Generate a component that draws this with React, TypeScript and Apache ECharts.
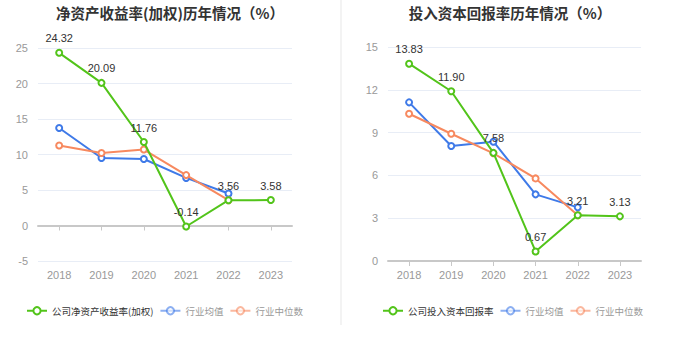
import React, { useEffect, useRef } from "react";
import * as echarts from "echarts";

const years = ["2018", "2019", "2020", "2021", "2022", "2023"];

const roeTitle = "净资产收益率(加权)历年情况（%）";
const roeCompanyName = "公司净资产收益率(加权)";
const roeCompany = [24.32, 20.09, 11.76, -0.14, 3.56, 3.58];
const roeAvg = [13.74, 9.5, 9.37, 6.7, 4.5, null];
const roeMedian = [11.26, 10.2, 10.7, 7.1, 3.56, null];

const roicTitle = "投入资本回报率历年情况（%）";
const roicCompanyName = "公司投入资本回报率";
const roicCompany = [13.83, 11.9, 7.58, 0.67, 3.21, 3.13];
const roicAvg = [11.12, 8.06, 8.36, 4.67, 3.76, null];
const roicMedian = [10.32, 8.92, 7.55, 5.79, 3.21, null];

const avgName = "行业均值";
const medianName = "行业中位数";

const GREEN = "#52c41a";
const BLUE = "#3f7ae8";
const ORANGE = "#f7895f";

function buildOption(p: {
  title: string;
  companyName: string;
  company: (number | null)[];
  avg: (number | null)[];
  median: (number | null)[];
  min: number;
  max: number;
  interval: number;
  grid: any;
  legendLeft: any;
}) {
  const mk = (name: string, data: any[], color: string, z: number, label: boolean) => ({
    type: "line",
    name,
    data,
    xAxisIndex: 0,
    symbol: "emptyCircle",
    symbolSize: 6,
    z,
    lineStyle: { color, width: 2 },
    itemStyle: { color, borderWidth: 1.5 },
    label: label
      ? { show: true, position: "top", color: "#333", fontSize: 11, formatter: (v: any) => Number(v.value).toFixed(2) }
      : { show: false },
  });
  return {
    animation: false,
    title: {
      text: p.title,
      left: "center",
      top: 0,
      textStyle: { fontSize: 14.5, fontWeight: "bold", color: "#333", fontFamily: "Noto Sans CJK SC" },
    },
    legend: {
      top: 301,
      left: p.legendLeft,
      itemWidth: 20,
      itemHeight: 9,
      itemGap: 6,
      textStyle: { fontSize: 9.5, color: "#333", fontFamily: "Noto Sans CJK SC" },
      data: [
        { name: p.companyName },
        { name: avgName, textStyle: { color: "#999" }, itemStyle: { opacity: 0.6 }, lineStyle: { opacity: 0.6 } },
        { name: medianName, textStyle: { color: "#999" }, itemStyle: { opacity: 0.6 }, lineStyle: { opacity: 0.6 } },
      ],
    },
    grid: p.grid,
    xAxis: [
      {
        type: "category",
        data: years,
        boundaryGap: true,
        axisLine: { onZero: true, lineStyle: { color: "#c8c8c8", width: 2 } },
        axisTick: { show: true, alignWithLabel: true, lineStyle: { color: "#c8c8c8" } },
        axisLabel: { show: false },
      },
      {
        type: "category",
        data: years,
        position: "bottom",
        boundaryGap: true,
        axisLine: { show: false, onZero: false },
        axisTick: { show: false },
        axisLabel: { color: "#999", fontSize: 11, margin: 8 },
      },
    ],
    yAxis: {
      type: "value",
      min: p.min,
      max: p.max,
      interval: p.interval,
      axisLine: { show: false },
      axisTick: { show: false },
      axisLabel: { color: "#999", fontSize: 11, margin: 10 },
      splitLine: { lineStyle: { color: "#e8edf6" } },
    },
    series: [
      mk(p.companyName, p.company, GREEN, 5, true),
      mk(avgName, p.avg, BLUE, 3, false),
      mk(medianName, p.median, ORANGE, 4, false),
    ],
  };
}

function Chart({ option, style }: { option: any; style: React.CSSProperties }) {
  const ref = useRef<HTMLDivElement>(null);
  useEffect(() => {
    if (!ref.current) return;
    const chart = echarts.init(ref.current, undefined, { renderer: "svg" });
    chart.setOption(option);
    return () => chart.dispose();
  }, [option]);
  return <div ref={ref} style={style} />;
}

const leftOption = buildOption({
  title: roeTitle,
  companyName: roeCompanyName,
  company: roeCompany,
  avg: roeAvg,
  median: roeMedian,
  min: -5,
  max: 25,
  interval: 5,
  grid: { left: 38, right: 48, top: 48, bottom: 88 },
  legendLeft: 21,
});

const rightOption = buildOption({
  title: roicTitle,
  companyName: roicCompanyName,
  company: roicCompany,
  avg: roicAvg,
  median: roicMedian,
  min: 0,
  max: 15,
  interval: 3,
  grid: { left: 48, right: 39, top: 47, bottom: 88 },
  legendLeft: 37,
});

export default function App() {
  return (
    <div style={{ position: "fixed", left: 0, top: 0, width: 680, height: 349, background: "#fff" }}>
      <Chart option={leftOption} style={{ position: "absolute", left: 0, top: 0, width: 340, height: 349 }} />
      <div style={{ position: "absolute", left: 340, top: 0, width: 2, height: 325, background: "#f3f3f3" }} />
      <Chart option={rightOption} style={{ position: "absolute", left: 340, top: 0, width: 340, height: 349 }} />
    </div>
  );
}
